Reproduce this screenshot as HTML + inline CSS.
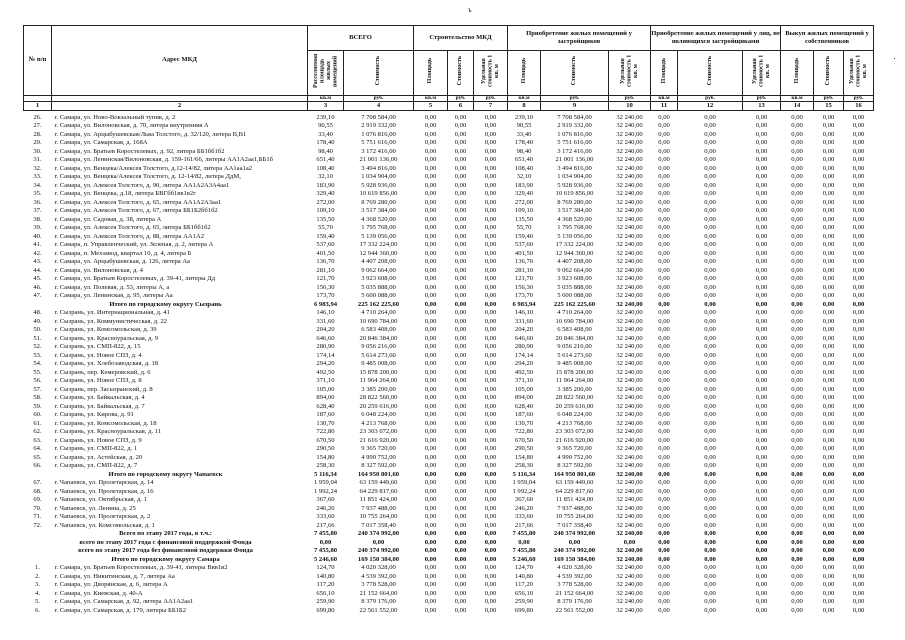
<!DOCTYPE html>
<html><head><meta charset="utf-8">
<style>
html,body{margin:0;padding:0;background:#fff;width:905px;height:640px;overflow:hidden}
body{font-family:"Liberation Serif","DejaVu Serif",serif;color:#111}
table{position:absolute;left:23px;top:25px;border-collapse:collapse;table-layout:fixed;width:850px}
td{padding:0;font-size:6.6px;line-height:8.5px;height:8.5px;text-align:center;white-space:nowrap;overflow:hidden}
.h td{border:1px solid #222;font-weight:bold}
.g td{height:24px;font-size:6.6px;line-height:8px;white-space:normal}
.r td{height:41px}
.u td{height:5px;line-height:5px;font-size:5.5px}
.n td{height:8px;line-height:8px;font-size:6.6px}
.v{writing-mode:vertical-rl;transform:rotate(180deg);font-size:6px;line-height:6.5px;display:inline-block;white-space:normal;max-height:40px}
td.a{text-align:left;padding-left:3px}
tr.b td{font-weight:bold}
tr.sp td{height:3px;line-height:0;font-size:0}
</style></head><body>
<div style="position:absolute;left:468px;top:6px;font-size:7px">ъ</div>
<div style="position:absolute;left:894px;top:58px;width:1px;height:1px;background:#444"></div>
<table>
<colgroup><col style="width:28px"><col style="width:256px"><col style="width:36px"><col style="width:70px"><col style="width:34px"><col style="width:26px"><col style="width:34px"><col style="width:33px"><col style="width:68px"><col style="width:42px"><col style="width:27px"><col style="width:65px"><col style="width:38px"><col style="width:33px"><col style="width:30px"><col style="width:30px"></colgroup>
<tr class="h g"><td rowspan="2">№ п/п</td><td rowspan="2">Адрес МКД</td><td colspan="2">ВСЕГО</td><td colspan="3">Строительство МКД</td><td colspan="3">Приобретение жилых помещений у застройщиков</td><td colspan="3">Приобретение жилых помещений у лиц, не являющихся застройщиками</td><td colspan="3">Выкуп жилых помещений у собственников</td></tr>
<tr class="h r"><td><span class="v">Расселяемая площадь жилых помещений</span></td><td><span class="v">Стоимость</span></td><td><span class="v">Площадь</span></td><td><span class="v">Стоимость</span></td><td><span class="v">Удельная стоимость 1 кв. м</span></td><td><span class="v">Площадь</span></td><td><span class="v">Стоимость</span></td><td><span class="v">Удельная стоимость 1 кв. м</span></td><td><span class="v">Площадь</span></td><td><span class="v">Стоимость</span></td><td><span class="v">Удельная стоимость 1 кв. м</span></td><td><span class="v">Площадь</span></td><td><span class="v">Стоимость</span></td><td><span class="v">Удельная стоимость 1 кв. м</span></td></tr>
<tr class="h u"><td></td><td></td><td>кв.м</td><td>руб.</td><td>кв.м</td><td>руб.</td><td>руб.</td><td>кв.м</td><td>руб.</td><td>руб.</td><td>кв.м</td><td>руб.</td><td>руб.</td><td>кв.м</td><td>руб.</td><td>руб.</td></tr>
<tr class="h n"><td>1</td><td>2</td><td>3</td><td>4</td><td>5</td><td>6</td><td>7</td><td>8</td><td>9</td><td>10</td><td>11</td><td>12</td><td>13</td><td>14</td><td>15</td><td>16</td></tr>
<tr class="sp"><td></td></tr>
<tr><td>26.</td><td class="a">г. Самара, ул. Ново-Вокзальный тупик, д. 2</td><td>239,10</td><td>7 708 584,00</td><td>0,00</td><td>0,00</td><td>0,00</td><td>239,10</td><td>7 708 584,00</td><td>32 240,00</td><td>0,00</td><td>0,00</td><td>0,00</td><td>0,00</td><td>0,00</td><td>0,00</td></tr>
<tr><td>27.</td><td class="a">г. Самара, ул. Вилоновская, д. 70, литера внутренняя А</td><td>90,55</td><td>2 919 332,00</td><td>0,00</td><td>0,00</td><td>0,00</td><td>90,55</td><td>2 919 332,00</td><td>32 240,00</td><td>0,00</td><td>0,00</td><td>0,00</td><td>0,00</td><td>0,00</td><td>0,00</td></tr>
<tr><td>28.</td><td class="a">г. Самара, ул. Арцыбушевская/Льва Толстого, д. 32/120, литера В,В1</td><td>33,40</td><td>1 076 816,00</td><td>0,00</td><td>0,00</td><td>0,00</td><td>33,40</td><td>1 076 816,00</td><td>32 240,00</td><td>0,00</td><td>0,00</td><td>0,00</td><td>0,00</td><td>0,00</td><td>0,00</td></tr>
<tr><td>29.</td><td class="a">г. Самара, ул. Самарская, д. 168А</td><td>178,40</td><td>5 751 616,00</td><td>0,00</td><td>0,00</td><td>0,00</td><td>178,40</td><td>5 751 616,00</td><td>32 240,00</td><td>0,00</td><td>0,00</td><td>0,00</td><td>0,00</td><td>0,00</td><td>0,00</td></tr>
<tr><td>30.</td><td class="a">г. Самара, ул. Братьев Коростелевых, д. 92, литера ББ1бб1б2</td><td>98,40</td><td>3 172 416,00</td><td>0,00</td><td>0,00</td><td>0,00</td><td>98,40</td><td>3 172 416,00</td><td>32 240,00</td><td>0,00</td><td>0,00</td><td>0,00</td><td>0,00</td><td>0,00</td><td>0,00</td></tr>
<tr><td>31.</td><td class="a">г. Самара, ул. Ленинская/Вилоновская, д. 159-161/66, литеры АА1А2аа1,ББ1б</td><td>651,40</td><td>21 001 136,00</td><td>0,00</td><td>0,00</td><td>0,00</td><td>651,40</td><td>21 001 136,00</td><td>32 240,00</td><td>0,00</td><td>0,00</td><td>0,00</td><td>0,00</td><td>0,00</td><td>0,00</td></tr>
<tr><td>32.</td><td class="a">г. Самара, ул. Венцека/Алексея Толстого, д.12-14/82, литера АА1аа1а2</td><td>108,40</td><td>3 494 816,00</td><td>0,00</td><td>0,00</td><td>0,00</td><td>108,40</td><td>3 494 816,00</td><td>32 240,00</td><td>0,00</td><td>0,00</td><td>0,00</td><td>0,00</td><td>0,00</td><td>0,00</td></tr>
<tr><td>33.</td><td class="a">г. Самара, ул. Венцека/Алексея Толстого, д. 12-14/82, литера ДдМ,</td><td>32,10</td><td>1 034 904,00</td><td>0,00</td><td>0,00</td><td>0,00</td><td>32,10</td><td>1 034 904,00</td><td>32 240,00</td><td>0,00</td><td>0,00</td><td>0,00</td><td>0,00</td><td>0,00</td><td>0,00</td></tr>
<tr><td>34.</td><td class="a">г. Самара, ул. Алексея Толстого, д. 90, литера АА1А2А3А4аа1</td><td>183,90</td><td>5 928 936,00</td><td>0,00</td><td>0,00</td><td>0,00</td><td>183,90</td><td>5 928 936,00</td><td>32 240,00</td><td>0,00</td><td>0,00</td><td>0,00</td><td>0,00</td><td>0,00</td><td>0,00</td></tr>
<tr><td>35.</td><td class="a">г. Самара, ул. Венцека, д.18, литера БВГбб1вв1в2г</td><td>329,40</td><td>10 619 856,00</td><td>0,00</td><td>0,00</td><td>0,00</td><td>329,40</td><td>10 619 856,00</td><td>32 240,00</td><td>0,00</td><td>0,00</td><td>0,00</td><td>0,00</td><td>0,00</td><td>0,00</td></tr>
<tr><td>36.</td><td class="a">г. Самара, ул. Алексея Толстого, д. 65, литера АА1А2А3аа1</td><td>272,00</td><td>8 769 280,00</td><td>0,00</td><td>0,00</td><td>0,00</td><td>272,00</td><td>8 769 280,00</td><td>32 240,00</td><td>0,00</td><td>0,00</td><td>0,00</td><td>0,00</td><td>0,00</td><td>0,00</td></tr>
<tr><td>37.</td><td class="a">г. Самара, ул. Алексея Толстого, д. 67, литера ББ1Б2бб1б2</td><td>109,10</td><td>3 517 384,00</td><td>0,00</td><td>0,00</td><td>0,00</td><td>109,10</td><td>3 517 384,00</td><td>32 240,00</td><td>0,00</td><td>0,00</td><td>0,00</td><td>0,00</td><td>0,00</td><td>0,00</td></tr>
<tr><td>38.</td><td class="a">г. Самара, ул. Садовая, д. 38, литера А</td><td>135,50</td><td>4 368 520,00</td><td>0,00</td><td>0,00</td><td>0,00</td><td>135,50</td><td>4 368 520,00</td><td>32 240,00</td><td>0,00</td><td>0,00</td><td>0,00</td><td>0,00</td><td>0,00</td><td>0,00</td></tr>
<tr><td>39.</td><td class="a">г. Самара, ул. Алексея Толстого, д. 65, литера ББ1бб1б2</td><td>55,70</td><td>1 795 768,00</td><td>0,00</td><td>0,00</td><td>0,00</td><td>55,70</td><td>1 795 768,00</td><td>32 240,00</td><td>0,00</td><td>0,00</td><td>0,00</td><td>0,00</td><td>0,00</td><td>0,00</td></tr>
<tr><td>40.</td><td class="a">г. Самара, ул. Алексея Толстого, д. 88, литера АА1А2</td><td>159,40</td><td>5 139 056,00</td><td>0,00</td><td>0,00</td><td>0,00</td><td>159,40</td><td>5 139 056,00</td><td>32 240,00</td><td>0,00</td><td>0,00</td><td>0,00</td><td>0,00</td><td>0,00</td><td>0,00</td></tr>
<tr><td>41.</td><td class="a">г. Самара, п. Управленческий, ул. Зеленая, д. 2, литера А</td><td>537,60</td><td>17 332 224,00</td><td>0,00</td><td>0,00</td><td>0,00</td><td>537,60</td><td>17 332 224,00</td><td>32 240,00</td><td>0,00</td><td>0,00</td><td>0,00</td><td>0,00</td><td>0,00</td><td>0,00</td></tr>
<tr><td>42.</td><td class="a">г. Самара, п. Мехзавод, квартал 10, д. 4, литера Б</td><td>401,50</td><td>12 944 360,00</td><td>0,00</td><td>0,00</td><td>0,00</td><td>401,50</td><td>12 944 360,00</td><td>32 240,00</td><td>0,00</td><td>0,00</td><td>0,00</td><td>0,00</td><td>0,00</td><td>0,00</td></tr>
<tr><td>43.</td><td class="a">г. Самара, ул. Арцыбушевская, д. 126, литера Аа</td><td>136,70</td><td>4 407 208,00</td><td>0,00</td><td>0,00</td><td>0,00</td><td>136,70</td><td>4 407 208,00</td><td>32 240,00</td><td>0,00</td><td>0,00</td><td>0,00</td><td>0,00</td><td>0,00</td><td>0,00</td></tr>
<tr><td>44.</td><td class="a">г. Самара, ул. Вилоновская, д. 4</td><td>281,10</td><td>9 062 664,00</td><td>0,00</td><td>0,00</td><td>0,00</td><td>281,10</td><td>9 062 664,00</td><td>32 240,00</td><td>0,00</td><td>0,00</td><td>0,00</td><td>0,00</td><td>0,00</td><td>0,00</td></tr>
<tr><td>45.</td><td class="a">г. Самара, ул. Братьев Коростелевых, д. 39-41, литеры Дд</td><td>121,70</td><td>3 923 608,00</td><td>0,00</td><td>0,00</td><td>0,00</td><td>121,70</td><td>3 923 608,00</td><td>32 240,00</td><td>0,00</td><td>0,00</td><td>0,00</td><td>0,00</td><td>0,00</td><td>0,00</td></tr>
<tr><td>46.</td><td class="a">г. Самара, ул. Полевая, д. 53, литеры А, а</td><td>156,30</td><td>5 035 888,00</td><td>0,00</td><td>0,00</td><td>0,00</td><td>156,30</td><td>5 035 888,00</td><td>32 240,00</td><td>0,00</td><td>0,00</td><td>0,00</td><td>0,00</td><td>0,00</td><td>0,00</td></tr>
<tr><td>47.</td><td class="a">г. Самара, ул. Ленинская, д. 95, литеры Аа</td><td>173,70</td><td>5 600 088,00</td><td>0,00</td><td>0,00</td><td>0,00</td><td>173,70</td><td>5 600 088,00</td><td>32 240,00</td><td>0,00</td><td>0,00</td><td>0,00</td><td>0,00</td><td>0,00</td><td>0,00</td></tr>
<tr class="b"><td colspan="2">Итого по городскому округу Сызрань</td><td>6 983,94</td><td>225 162 225,60</td><td>0,00</td><td>0,00</td><td>0,00</td><td>6 983,94</td><td>225 162 225,60</td><td>32 240,00</td><td>0,00</td><td>0,00</td><td>0,00</td><td>0,00</td><td>0,00</td><td>0,00</td></tr>
<tr><td>48.</td><td class="a">г. Сызрань, ул. Интернациональная, д. 41</td><td>146,10</td><td>4 710 264,00</td><td>0,00</td><td>0,00</td><td>0,00</td><td>146,10</td><td>4 710 264,00</td><td>32 240,00</td><td>0,00</td><td>0,00</td><td>0,00</td><td>0,00</td><td>0,00</td><td>0,00</td></tr>
<tr><td>49.</td><td class="a">г. Сызрань, ул. Коммунистическая, д. 22</td><td>331,60</td><td>10 690 784,00</td><td>0,00</td><td>0,00</td><td>0,00</td><td>331,60</td><td>10 690 784,00</td><td>32 240,00</td><td>0,00</td><td>0,00</td><td>0,00</td><td>0,00</td><td>0,00</td><td>0,00</td></tr>
<tr><td>50.</td><td class="a">г. Сызрань, ул. Комсомольская, д. 39</td><td>204,20</td><td>6 583 408,00</td><td>0,00</td><td>0,00</td><td>0,00</td><td>204,20</td><td>6 583 408,00</td><td>32 240,00</td><td>0,00</td><td>0,00</td><td>0,00</td><td>0,00</td><td>0,00</td><td>0,00</td></tr>
<tr><td>51.</td><td class="a">г. Сызрань, ул. Красноуральская, д. 9</td><td>646,60</td><td>20 846 384,00</td><td>0,00</td><td>0,00</td><td>0,00</td><td>646,60</td><td>20 846 384,00</td><td>32 240,00</td><td>0,00</td><td>0,00</td><td>0,00</td><td>0,00</td><td>0,00</td><td>0,00</td></tr>
<tr><td>52.</td><td class="a">г. Сызрань, ул. СМП-822, д. 15</td><td>280,90</td><td>9 056 216,00</td><td>0,00</td><td>0,00</td><td>0,00</td><td>280,90</td><td>9 056 216,00</td><td>32 240,00</td><td>0,00</td><td>0,00</td><td>0,00</td><td>0,00</td><td>0,00</td><td>0,00</td></tr>
<tr><td>53.</td><td class="a">г. Сызрань, ул. Новое СПЗ, д. 4</td><td>174,14</td><td>5 614 273,60</td><td>0,00</td><td>0,00</td><td>0,00</td><td>174,14</td><td>5 614 273,60</td><td>32 240,00</td><td>0,00</td><td>0,00</td><td>0,00</td><td>0,00</td><td>0,00</td><td>0,00</td></tr>
<tr><td>54.</td><td class="a">г. Сызрань, ул. Хлебозаводская, д. 18</td><td>294,20</td><td>9 485 008,00</td><td>0,00</td><td>0,00</td><td>0,00</td><td>294,20</td><td>9 485 008,00</td><td>32 240,00</td><td>0,00</td><td>0,00</td><td>0,00</td><td>0,00</td><td>0,00</td><td>0,00</td></tr>
<tr><td>55.</td><td class="a">г. Сызрань, пер. Кемеровский, д. 6</td><td>492,50</td><td>15 878 200,00</td><td>0,00</td><td>0,00</td><td>0,00</td><td>492,50</td><td>15 878 200,00</td><td>32 240,00</td><td>0,00</td><td>0,00</td><td>0,00</td><td>0,00</td><td>0,00</td><td>0,00</td></tr>
<tr><td>56.</td><td class="a">г. Сызрань, ул. Новое СПЗ, д. 8</td><td>371,10</td><td>11 964 264,00</td><td>0,00</td><td>0,00</td><td>0,00</td><td>371,10</td><td>11 964 264,00</td><td>32 240,00</td><td>0,00</td><td>0,00</td><td>0,00</td><td>0,00</td><td>0,00</td><td>0,00</td></tr>
<tr><td>57.</td><td class="a">г. Сызрань, пер. Засызранский, д. 8</td><td>105,00</td><td>3 385 200,00</td><td>0,00</td><td>0,00</td><td>0,00</td><td>105,00</td><td>3 385 200,00</td><td>32 240,00</td><td>0,00</td><td>0,00</td><td>0,00</td><td>0,00</td><td>0,00</td><td>0,00</td></tr>
<tr><td>58.</td><td class="a">г. Сызрань, ул. Байкальская, д. 4</td><td>894,00</td><td>28 822 560,00</td><td>0,00</td><td>0,00</td><td>0,00</td><td>894,00</td><td>28 822 560,00</td><td>32 240,00</td><td>0,00</td><td>0,00</td><td>0,00</td><td>0,00</td><td>0,00</td><td>0,00</td></tr>
<tr><td>59.</td><td class="a">г. Сызрань, ул. Байкальская, д. 7</td><td>628,40</td><td>20 259 616,00</td><td>0,00</td><td>0,00</td><td>0,00</td><td>628,40</td><td>20 259 616,00</td><td>32 240,00</td><td>0,00</td><td>0,00</td><td>0,00</td><td>0,00</td><td>0,00</td><td>0,00</td></tr>
<tr><td>60.</td><td class="a">г. Сызрань, ул. Кирова, д. 91</td><td>187,60</td><td>6 048 224,00</td><td>0,00</td><td>0,00</td><td>0,00</td><td>187,60</td><td>6 048 224,00</td><td>32 240,00</td><td>0,00</td><td>0,00</td><td>0,00</td><td>0,00</td><td>0,00</td><td>0,00</td></tr>
<tr><td>61.</td><td class="a">г. Сызрань, ул. Комсомольская, д. 18</td><td>130,70</td><td>4 213 768,00</td><td>0,00</td><td>0,00</td><td>0,00</td><td>130,70</td><td>4 213 768,00</td><td>32 240,00</td><td>0,00</td><td>0,00</td><td>0,00</td><td>0,00</td><td>0,00</td><td>0,00</td></tr>
<tr><td>62.</td><td class="a">г. Сызрань, ул. Красноуральская, д. 11</td><td>722,80</td><td>23 303 072,00</td><td>0,00</td><td>0,00</td><td>0,00</td><td>722,80</td><td>23 303 072,00</td><td>32 240,00</td><td>0,00</td><td>0,00</td><td>0,00</td><td>0,00</td><td>0,00</td><td>0,00</td></tr>
<tr><td>63.</td><td class="a">г. Сызрань, ул. Новое СПЗ, д. 9</td><td>670,50</td><td>21 616 920,00</td><td>0,00</td><td>0,00</td><td>0,00</td><td>670,50</td><td>21 616 920,00</td><td>32 240,00</td><td>0,00</td><td>0,00</td><td>0,00</td><td>0,00</td><td>0,00</td><td>0,00</td></tr>
<tr><td>64.</td><td class="a">г. Сызрань, ул. СМП-822, д. 1</td><td>290,50</td><td>9 365 720,00</td><td>0,00</td><td>0,00</td><td>0,00</td><td>290,50</td><td>9 365 720,00</td><td>32 240,00</td><td>0,00</td><td>0,00</td><td>0,00</td><td>0,00</td><td>0,00</td><td>0,00</td></tr>
<tr><td>65.</td><td class="a">г. Сызрань, ул. Астейская, д. 20</td><td>154,80</td><td>4 990 752,00</td><td>0,00</td><td>0,00</td><td>0,00</td><td>154,80</td><td>4 990 752,00</td><td>32 240,00</td><td>0,00</td><td>0,00</td><td>0,00</td><td>0,00</td><td>0,00</td><td>0,00</td></tr>
<tr><td>66.</td><td class="a">г. Сызрань, ул. СМП-822, д. 7</td><td>258,30</td><td>8 327 592,00</td><td>0,00</td><td>0,00</td><td>0,00</td><td>258,30</td><td>8 327 592,00</td><td>32 240,00</td><td>0,00</td><td>0,00</td><td>0,00</td><td>0,00</td><td>0,00</td><td>0,00</td></tr>
<tr class="b"><td colspan="2">Итого по городскому округу Чапаевск</td><td>5 116,34</td><td>164 950 801,60</td><td>0,00</td><td>0,00</td><td>0,00</td><td>5 116,34</td><td>164 950 801,60</td><td>32 240,00</td><td>0,00</td><td>0,00</td><td>0,00</td><td>0,00</td><td>0,00</td><td>0,00</td></tr>
<tr><td>67.</td><td class="a">г. Чапаевск, ул. Пролетарская, д. 14</td><td>1 959,04</td><td>63 159 449,60</td><td>0,00</td><td>0,00</td><td>0,00</td><td>1 959,04</td><td>63 159 449,60</td><td>32 240,00</td><td>0,00</td><td>0,00</td><td>0,00</td><td>0,00</td><td>0,00</td><td>0,00</td></tr>
<tr><td>68.</td><td class="a">г. Чапаевск, ул. Пролетарская, д. 16</td><td>1 992,24</td><td>64 229 817,60</td><td>0,00</td><td>0,00</td><td>0,00</td><td>1 992,24</td><td>64 229 817,60</td><td>32 240,00</td><td>0,00</td><td>0,00</td><td>0,00</td><td>0,00</td><td>0,00</td><td>0,00</td></tr>
<tr><td>69.</td><td class="a">г. Чапаевск, ул. Октябрьская, д. 1</td><td>367,60</td><td>11 851 424,00</td><td>0,00</td><td>0,00</td><td>0,00</td><td>367,60</td><td>11 851 424,00</td><td>32 240,00</td><td>0,00</td><td>0,00</td><td>0,00</td><td>0,00</td><td>0,00</td><td>0,00</td></tr>
<tr><td>70.</td><td class="a">г. Чапаевск, ул. Ленина, д. 25</td><td>246,20</td><td>7 937 488,00</td><td>0,00</td><td>0,00</td><td>0,00</td><td>246,20</td><td>7 937 488,00</td><td>32 240,00</td><td>0,00</td><td>0,00</td><td>0,00</td><td>0,00</td><td>0,00</td><td>0,00</td></tr>
<tr><td>71.</td><td class="a">г. Чапаевск, ул. Пролетарская, д. 2</td><td>333,60</td><td>10 755 264,00</td><td>0,00</td><td>0,00</td><td>0,00</td><td>333,60</td><td>10 755 264,00</td><td>32 240,00</td><td>0,00</td><td>0,00</td><td>0,00</td><td>0,00</td><td>0,00</td><td>0,00</td></tr>
<tr><td>72.</td><td class="a">г. Чапаевск, ул. Комсомольская, д. 1</td><td>217,66</td><td>7 017 358,40</td><td>0,00</td><td>0,00</td><td>0,00</td><td>217,66</td><td>7 017 358,40</td><td>32 240,00</td><td>0,00</td><td>0,00</td><td>0,00</td><td>0,00</td><td>0,00</td><td>0,00</td></tr>
<tr class="b"><td colspan="2">Всего по этапу 2017 года, в т.ч.:</td><td>7 455,80</td><td>240 374 992,00</td><td>0,00</td><td>0,00</td><td>0,00</td><td>7 455,80</td><td>240 374 992,00</td><td>32 240,00</td><td>0,00</td><td>0,00</td><td>0,00</td><td>0,00</td><td>0,00</td><td>0,00</td></tr>
<tr class="b"><td colspan="2">всего по этапу 2017 года с финансовой поддержкой Фонда</td><td>0,00</td><td>0,00</td><td>0,00</td><td>0,00</td><td>0,00</td><td>0,00</td><td>0,00</td><td>0,00</td><td>0,00</td><td>0,00</td><td>0,00</td><td>0,00</td><td>0,00</td><td>0,00</td></tr>
<tr class="b"><td colspan="2">всего по этапу 2017 года без финансовой поддержки Фонда</td><td>7 455,80</td><td>240 374 992,00</td><td>0,00</td><td>0,00</td><td>0,00</td><td>7 455,80</td><td>240 374 992,00</td><td>32 240,00</td><td>0,00</td><td>0,00</td><td>0,00</td><td>0,00</td><td>0,00</td><td>0,00</td></tr>
<tr class="b"><td colspan="2">Итого по городскому округу Самара</td><td>5 246,60</td><td>169 150 384,00</td><td>0,00</td><td>0,00</td><td>0,00</td><td>5 246,60</td><td>169 150 384,00</td><td>32 240,00</td><td>0,00</td><td>0,00</td><td>0,00</td><td>0,00</td><td>0,00</td><td>0,00</td></tr>
<tr><td>1.</td><td class="a">г. Самара, ул. Братьев Коростелевых, д. 39-41, литеры Ввв1в2</td><td>124,70</td><td>4 020 328,00</td><td>0,00</td><td>0,00</td><td>0,00</td><td>124,70</td><td>4 020 328,00</td><td>32 240,00</td><td>0,00</td><td>0,00</td><td>0,00</td><td>0,00</td><td>0,00</td><td>0,00</td></tr>
<tr><td>2.</td><td class="a">г. Самара, ул. Никитинская, д. 7, литера Аа</td><td>140,80</td><td>4 539 392,00</td><td>0,00</td><td>0,00</td><td>0,00</td><td>140,80</td><td>4 539 392,00</td><td>32 240,00</td><td>0,00</td><td>0,00</td><td>0,00</td><td>0,00</td><td>0,00</td><td>0,00</td></tr>
<tr><td>3.</td><td class="a">г. Самара, ул. Дворянская, д. 6, литера А</td><td>117,20</td><td>3 778 528,00</td><td>0,00</td><td>0,00</td><td>0,00</td><td>117,20</td><td>3 778 528,00</td><td>32 240,00</td><td>0,00</td><td>0,00</td><td>0,00</td><td>0,00</td><td>0,00</td><td>0,00</td></tr>
<tr><td>4.</td><td class="a">г. Самара, ул. Киевская, д. 40-А</td><td>656,10</td><td>21 152 664,00</td><td>0,00</td><td>0,00</td><td>0,00</td><td>656,10</td><td>21 152 664,00</td><td>32 240,00</td><td>0,00</td><td>0,00</td><td>0,00</td><td>0,00</td><td>0,00</td><td>0,00</td></tr>
<tr><td>5.</td><td class="a">г. Самара, ул. Самарская, д. 92, литера АА1А2аа1</td><td>259,90</td><td>8 379 176,00</td><td>0,00</td><td>0,00</td><td>0,00</td><td>259,90</td><td>8 379 176,00</td><td>32 240,00</td><td>0,00</td><td>0,00</td><td>0,00</td><td>0,00</td><td>0,00</td><td>0,00</td></tr>
<tr><td>6.</td><td class="a">г. Самара, ул. Самарская, д. 179, литеры ББ1Б2</td><td>699,80</td><td>22 561 552,00</td><td>0,00</td><td>0,00</td><td>0,00</td><td>699,80</td><td>22 561 552,00</td><td>32 240,00</td><td>0,00</td><td>0,00</td><td>0,00</td><td>0,00</td><td>0,00</td><td>0,00</td></tr>
</table>
</body></html>
